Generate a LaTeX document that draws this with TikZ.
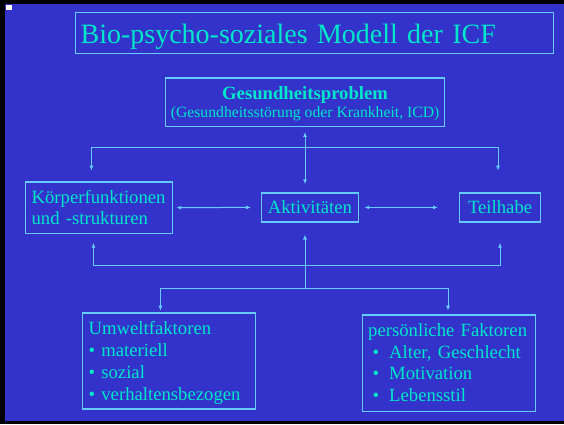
\documentclass[tikz,border=0pt]{standalone}
\usepackage{fontspec}
\setmainfont{Liberation Serif}
\usetikzlibrary{arrows.meta}
\definecolor{slideblue}{RGB}{51,51,204}
\definecolor{slidetext}{RGB}{0,230,200}
\definecolor{slideline}{RGB}{102,204,255}

\begin{document}
\begin{tikzpicture}
[
x=1pt,y=-1pt,
>={Latex[length=5pt,width=4pt]},
box/.style={draw=slideline,line width=1.2pt,text=slidetext,inner ysep=0pt,anchor=north west,font=\fontsize{18.7}{21}\selectfont},
link/.style={draw=slideline,line width=1pt},
]
\useasboundingbox (0,0) rectangle (564,424);

%Slide background
\fill[black] (0,0) rectangle (564,424);
\fill[slideblue] (5,4) rectangle (564,421);
\fill[white] (6,4.5) rectangle (12,10);

%Place the nodes
\node[box,inner xsep=5.5pt,text width=467.5pt,align=left,text height=31.6pt,text depth=9.4pt,font=\fontsize{28}{32}\selectfont] (title) at (74.5,11.7) {Bio-psycho-soziales Modell der ICF};
\node[box,inner xsep=0pt,minimum width=279pt,align=center,text height=39.7pt,text depth=8.7pt,font=\fontsize{18.7}{18}\selectfont] (gp) at (165,77.3) {\textbf{Gesundheitsproblem}\\{\fontsize{15.7}{18}\selectfont (Gesundheitsstörung oder Krankheit, ICD)}};
\node[box,inner xsep=6pt,text width=135pt,align=left,text height=22pt,text depth=29.4pt] (kf) at (25,181.3) {Körperfunktionen\\und -strukturen};
\node[box,inner xsep=0pt,minimum width=96.5pt,text height=21pt,text depth=8pt] (akt) at (261,192.3) {Aktivitäten};
\node[box,inner xsep=0pt,minimum width=81pt,text height=21pt,text depth=8pt] (th) at (459,192.3) {Teilhabe};
\node[box,inner xsep=6.3pt,text width=160.7pt,align=left,text height=21.7pt,text depth=74.3pt,font=\fontsize{18.7}{22}\selectfont] (uf) at (81.7,312.3) {Umweltfaktoren\\• materiell\\• sozial\\• verhaltensbezogen};
\node[box,inner xsep=5.6pt,text width=161.8pt,align=left,text height=21.7pt,text depth=74.7pt,font=\fontsize{18.7}{21.6}\selectfont] (pf) at (362,314.3) {persönliche Faktoren\\\hspace*{4.4pt}\makebox[16.6pt][l]{•}Alter, Geschlecht\\\hspace*{4.4pt}\makebox[16.6pt][l]{•}Motivation\\\hspace*{4.4pt}\makebox[16.6pt][l]{•}Lebensstil};

%Branch points and arrow ends
\coordinate (hub1) at (305,147.3);
\coordinate (kfin) at (91.4,170.7);
\coordinate (thin) at (498,170.7);
\coordinate (hub2) at (305,265.3);
\coordinate (kfout) at (93.5,242.7);
\coordinate (thout) at (500,242.7);
\coordinate (hub3) at (305,288.3);
\coordinate (ufin) at (160.4,310.7);
\coordinate (pfin) at (448,310.7);

%Draw the connections
\draw[link,<->,shorten <=5pt,shorten >=8pt] (gp.south -| hub1) -- (akt.north -| hub1);
\draw[link,->] (hub1) -| (kfin);
\draw[link,->] (hub1) -| (thin);
\draw[link,<->,shorten <=3pt,shorten >=10pt] (kf.east) -- (akt.west);
\draw[link,<->,shorten <=5.5pt,shorten >=21pt] (akt.east) -- (th.west);
\draw[link,->,shorten >=12pt] (hub3) -- (akt.south -| hub3);
\draw[link,->] (hub2) -| (kfout);
\draw[link,->] (hub2) -| (thout);
\draw[link,->] (hub3) -| (ufin);
\draw[link,->] (hub3) -| (pfin);
\end{tikzpicture}
\end{document}
